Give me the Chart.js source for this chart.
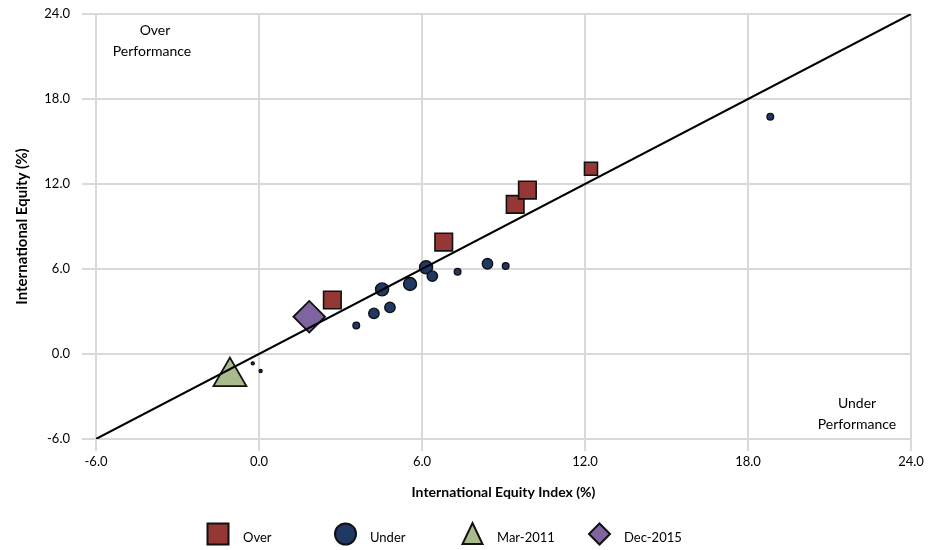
<!DOCTYPE html>
<html>
<head>
<meta charset="utf-8">
<script src="https://cdn.jsdelivr.net/npm/chart.js@4.4.0/dist/chart.umd.min.js"></script>
<style>
  html, body { margin: 0; padding: 0; background: #fff; }
  #wrap { width: 944px; height: 550px; }
</style>
</head>
<body>
<div id="wrap"><canvas id="scatterChart"></canvas></div>
<script>
// --- Datos ---
const overX = [2.7, 6.8, 9.43, 9.88, 12.22];
const overY = [3.81, 7.9, 10.56, 11.57, 13.08];
const overSize = [12.4, 12.4, 12.4, 12.4, 9.2];

const underX = [-0.23, 0.06, 3.58, 4.23, 4.53, 4.82, 5.56, 6.15, 6.38, 7.31, 8.41, 9.08, 18.82];
const underY = [-0.66, -1.2, 2.02, 2.87, 4.56, 3.29, 4.94, 6.12, 5.5, 5.81, 6.37, 6.21, 16.75];
const underSize = [1.5, 1.5, 3.3, 5.2, 6.5, 5.2, 6.5, 6.5, 5.2, 3.3, 5.2, 3.3, 3.3];

const mar2011X = [-1.07];
const mar2011Y = [-1.6];
const dec2015X = [1.85];
const dec2015Y = [2.63];

// línea de paridad (y = x)
const parityX = [-6, 24];
const parityY = [-6, 24];

const axisMin = -6;
const axisMax = 24;
const axisStep = 6;

const xTitle = 'International Equity Index (%)';
const yTitle = 'International Equity (%)';

const FONT = 'Lato, "Open Sans", sans-serif';

const toPoints = (xs, ys) => xs.map((x, i) => ({ x: x, y: ys[i] }));

// --- Textos "Over / Under Performance" ---
const quadrantLabels = {
    id: 'quadrantLabels',
    afterDraw(chart) {
        const { ctx, chartArea } = chart;
        ctx.save();
        ctx.font = '14px ' + FONT;
        ctx.fillStyle = '#000';
        ctx.textAlign = 'center';
        ctx.textBaseline = 'middle';
        ctx.fillText('Over', chartArea.left + 59, chartArea.top + 16);
        ctx.fillText('Performance', chartArea.left + 56, chartArea.top + 37);
        ctx.fillText('Under', chartArea.right - 54, chartArea.bottom - 36);
        ctx.fillText('Performance', chartArea.right - 54, chartArea.bottom - 15);
        ctx.restore();
    }
};

// --- Leyenda inferior con anchos fijos ---
const bottomLegend = {
    id: 'bottomLegend',
    afterDraw(chart) {
        const ctx = chart.ctx;
        const items = chart.data.datasets.filter(d => !d.hideInLegend);
        const startX = 218, stride = 127, cy = 534;
        ctx.save();
        items.forEach((d, i) => {
            const x = startX + i * stride;
            ctx.beginPath();
            if (d.pointStyle === 'rect') {
                ctx.rect(x - 10.5, cy - 10.5, 21, 21);
            } else if (d.pointStyle === 'circle') {
                ctx.arc(x + 0.5, cy, 10.5, 0, Math.PI * 2);
            } else if (d.pointStyle === 'triangle') {
                ctx.moveTo(x + 0.5, cy - 11);
                ctx.lineTo(x + 10.5, cy + 10);
                ctx.lineTo(x - 9.5, cy + 10);
                ctx.closePath();
            } else {
                ctx.moveTo(x + 0.5, cy - 10.5);
                ctx.lineTo(x + 11, cy);
                ctx.lineTo(x + 0.5, cy + 10.5);
                ctx.lineTo(x - 10, cy);
                ctx.closePath();
            }
            ctx.fillStyle = d.backgroundColor;
            ctx.fill();
            ctx.lineWidth = 2;
            ctx.strokeStyle = '#111';
            ctx.stroke();

            ctx.font = '13px ' + FONT;
            ctx.fillStyle = '#000';
            ctx.textAlign = 'left';
            ctx.textBaseline = 'middle';
            ctx.fillText(d.label, x + 25, cy + 4);
        });
        ctx.restore();
    }
};

const tickFmt = v => Number(v).toFixed(1);

function createScatterChart(ctx) {
    new Chart(ctx, {
        type: 'scatter',
        data: {
            datasets: [{
                label: 'Over',
                data: toPoints(overX, overY),
                pointStyle: 'rect',
                pointRadius: overSize,
                pointHoverRadius: overSize,
                backgroundColor: '#953735',
                borderColor: '#111',
                borderWidth: 1.6,
                order: 1
            }, {
                label: 'Under',
                data: toPoints(underX, underY),
                pointStyle: 'circle',
                pointRadius: underSize,
                pointHoverRadius: underSize,
                backgroundColor: '#1F3864',
                borderColor: '#111',
                borderWidth: 1.4,
                order: 1
            }, {
                label: 'Mar-2011',
                data: toPoints(mar2011X, mar2011Y),
                pointStyle: 'triangle',
                pointRadius: 19,
                pointHoverRadius: 19,
                backgroundColor: '#A9BA8C',
                borderColor: '#111',
                borderWidth: 1.8,
                order: 1
            }, {
                label: 'Dec-2015',
                data: toPoints(dec2015X, dec2015Y),
                pointStyle: 'rectRot',
                pointRadius: 15.8,
                pointHoverRadius: 15.8,
                backgroundColor: '#8064A2',
                borderColor: '#111',
                borderWidth: 1.8,
                order: 1
            }, {
                label: 'Parity',
                type: 'line',
                data: toPoints(parityX, parityY),
                borderColor: '#000',
                borderWidth: 2,
                pointRadius: 0,
                fill: false,
                hideInLegend: true,
                order: 0
            }]
        },
        options: {
            responsive: true,
            maintainAspectRatio: false,
            animation: false,
            layout: { autoPadding: false, padding: { left: 0, right: 33, top: 14, bottom: 45 } },
            scales: {
                x: {
                    type: 'linear',
                    min: axisMin,
                    max: axisMax,
                    afterFit: s => { s.height = 66; },
                    ticks: { stepSize: axisStep, callback: tickFmt, color: '#000', font: { family: FONT, size: 13 }, padding: 3, maxRotation: 0 },
                    grid: { color: '#d9d9d9', lineWidth: 2, tickLength: 12, tickColor: '#d9d9d9' },
                    border: { display: false },
                    title: { display: true, text: xTitle, color: '#000', font: { family: FONT, size: 14, weight: 'bold' }, padding: { top: 4, bottom: 4 } }
                },
                y: {
                    type: 'linear',
                    min: axisMin,
                    max: axisMax,
                    afterFit: s => { s.width = 96; s.paddingTop = 0; s.paddingBottom = 0; },
                    ticks: { stepSize: axisStep, callback: tickFmt, color: '#000', font: { family: FONT, size: 13 }, padding: 12 },
                    grid: { color: '#d9d9d9', lineWidth: 2, tickLength: 14, tickColor: '#d9d9d9' },
                    border: { display: false },
                    title: { display: true, text: yTitle, color: '#000', font: { family: FONT, size: 15, weight: 'bold' }, padding: { top: 13, bottom: 0 } }
                }
            },
            plugins: {
                legend: { display: false },
                tooltip: { enabled: false }
            }
        },
        plugins: [quadrantLabels, bottomLegend]
    });
}

document.addEventListener('DOMContentLoaded', () => {
    const ctx = document.getElementById('scatterChart').getContext('2d');
    createScatterChart(ctx);
});
</script>
</body>
</html>
